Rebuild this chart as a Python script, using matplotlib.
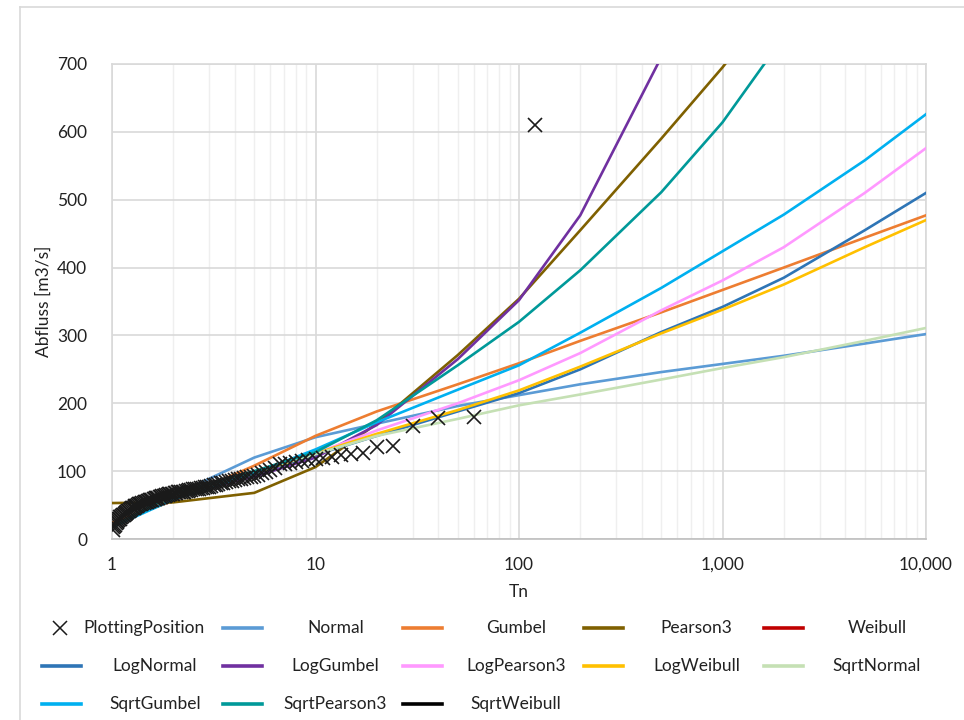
import numpy as np
import matplotlib
matplotlib.use("Agg")
import matplotlib.pyplot as plt
from matplotlib.lines import Line2D
from matplotlib.ticker import FixedLocator, FuncFormatter, NullFormatter

plt.rcParams['font.family'] = ['Lato', 'DejaVu Sans']

# return periods where the fitted distributions are evaluated
T_fit = [1.01, 2, 5, 10, 20, 50, 100, 200, 500, 1000, 2000, 5000, 10000]

normal       = [20, 64, 120, 150, 170, 196, 212, 228, 246, 258, 270, 288, 302]
gumbel       = [25, 56, 108, 152, 188, 228, 259, 292, 334, 367, 400, 444, 477]
pearson3     = [53, 54, 68, 106, 170, 271, 354, 455, 590, 695, 810, 960, 1070]
weibull      = []
lognormal    = [18, 62, 96, 124, 152, 188, 215, 250, 305, 342, 385, 455, 510]
loggumbel    = [18, 62, 92, 120, 168, 265, 352, 477, 710, 960, 1280, 1850, 2400]
logpearson3  = [18, 62, 98, 126, 160, 200, 234, 274, 337, 381, 430, 510, 576]
logweibull   = [18, 62, 97, 126, 155, 190, 219, 254, 303, 338, 375, 430, 470]
sqrtnormal   = [18, 64, 100, 125, 152, 177, 197, 213, 235, 252, 268, 292, 311]
sqrtgumbel   = [18, 58, 97, 132, 172, 220, 256, 304, 370, 424, 478, 558, 626]
sqrtpearson3 = [18, 66, 100, 128, 175, 256, 320, 396, 511, 614, 740, 910, 1050]
sqrtweibull  = []

# observed annual maxima, sorted descending (rank 1 = largest)
Q_obs = [610, 180, 178, 167, 137, 135, 127, 126, 124, 121,
         119, 118, 116, 115, 113, 112, 111, 110, 104, 101,
         99, 97, 95, 93, 92, 91, 90, 89, 88, 87,
         86, 85, 84, 83, 82, 81, 80, 79, 78, 77,
         76, 76, 75, 75, 74, 74, 73, 73, 72, 72,
         71, 71, 70, 70, 70, 69, 69, 68, 68, 67,
         67, 66, 66, 65, 65, 64, 63, 63, 62, 62,
         61, 61, 60, 59, 59, 58, 58, 57, 56, 56,
         55, 55, 54, 53, 53, 52, 51, 51, 50, 49,
         49, 48, 47, 46, 46, 45, 44, 43, 42, 41,
         40, 39, 38, 37, 36, 35, 34, 33, 32, 30,
         29, 28, 26, 25, 23, 21, 19, 17, 13]
rank = np.arange(1, len(Q_obs) + 1)
T_obs = (len(Q_obs) + 1) / rank   # Weibull plotting position

series = [
    ("Normal", normal, "#5B9BD5"),
    ("Gumbel", gumbel, "#ED7D31"),
    ("Pearson3", pearson3, "#7F6000"),
    ("Weibull", weibull, "#C00000"),
    ("LogNormal", lognormal, "#2E75B6"),
    ("LogGumbel", loggumbel, "#7030A0"),
    ("LogPearson3", logpearson3, "#FF99FF"),
    ("LogWeibull", logweibull, "#FFC000"),
    ("SqrtNormal", sqrtnormal, "#C5E0B4"),
    ("SqrtGumbel", sqrtgumbel, "#00B0F0"),
    ("SqrtPearson3", sqrtpearson3, "#009999"),
    ("SqrtWeibull", sqrtweibull, "#000000"),
]

W, H = 964, 720
fig = plt.figure(figsize=(W / 100, H / 100), dpi=100)
ax = fig.add_axes([112 / W, 1 - 539 / H, (926 - 112) / W, (539 - 64) / H])

for name, vals, col in series:
    ax.plot(T_fit[:len(vals)], vals, color=col, lw=1.9, zorder=3)
ax.plot(T_obs, Q_obs, ls='none', marker='x', ms=10, mew=1.2, color='#1a1a1a', zorder=4)

ax.set_xscale('log')
ax.set_xlim(1, 10000)
ax.set_ylim(0, 700)
ax.set_yticks(np.arange(0, 701, 100))
ax.xaxis.set_major_locator(FixedLocator([1, 10, 100, 1000, 10000]))
ax.xaxis.set_major_formatter(FuncFormatter(lambda v, p: f"{v:,.0f}"))
minors = [m * 10 ** d for d in range(4) for m in range(2, 10)]
ax.xaxis.set_minor_locator(FixedLocator(minors))
ax.xaxis.set_minor_formatter(NullFormatter())

ax.grid(which='major', color='#d9d9d9', lw=1.2, zorder=0)
ax.grid(which='minor', axis='x', color='#efefef', lw=1.0, zorder=0)
ax.set_axisbelow(True)
for s in ax.spines.values():
    s.set_color('#d9d9d9')
    s.set_linewidth(1.2)
ax.spines['bottom'].set_color('#bfbfbf')
ax.tick_params(which='both', length=0, labelsize=12.5, colors='#222222')
ax.tick_params(axis='y', pad=18)
ax.tick_params(axis='x', pad=13)

ax.set_xlabel("Tn", fontsize=12.5, color='#222222', labelpad=8)
ax.set_ylabel("Abfluss [m3/s]", fontsize=12.5, color='#222222', labelpad=4)

# chart frame (left and top edges visible in the reference)
fig.add_artist(Line2D([20 / W, 20 / W], [0, 1 - 7 / H], color='#d9d9d9', lw=1.2))
fig.add_artist(Line2D([20 / W, 1], [1 - 7 / H, 1 - 7 / H], color='#d9d9d9', lw=1.2))

# legend laid out like Excel: 5 columns, centred labels
entries = [("PlottingPosition", None)] + [(n, c) for n, _, c in series]
for i, (name, col) in enumerate(entries):
    r, c = divmod(i, 5)
    x0 = 42 + 180.5 * c
    y = 1 - (628 + 38 * r) / H
    if col is None:
        fig.add_artist(Line2D([(x0 + 18) / W], [y], ls='none', marker='x',
                              ms=10, mew=1.1, color='#1a1a1a'))
        fig.text((x0 + 102) / W, y, name, ha='center', va='center',
                 fontsize=12.5, color='#222222')
    else:
        fig.add_artist(Line2D([x0 / W, (x0 + 39) / W], [y, y], color=col, lw=2.6))
        fig.text((x0 + 113) / W, y, name, ha='center', va='center',
                 fontsize=12.5, color='#222222')

fig.savefig("out.png", dpi=100)
